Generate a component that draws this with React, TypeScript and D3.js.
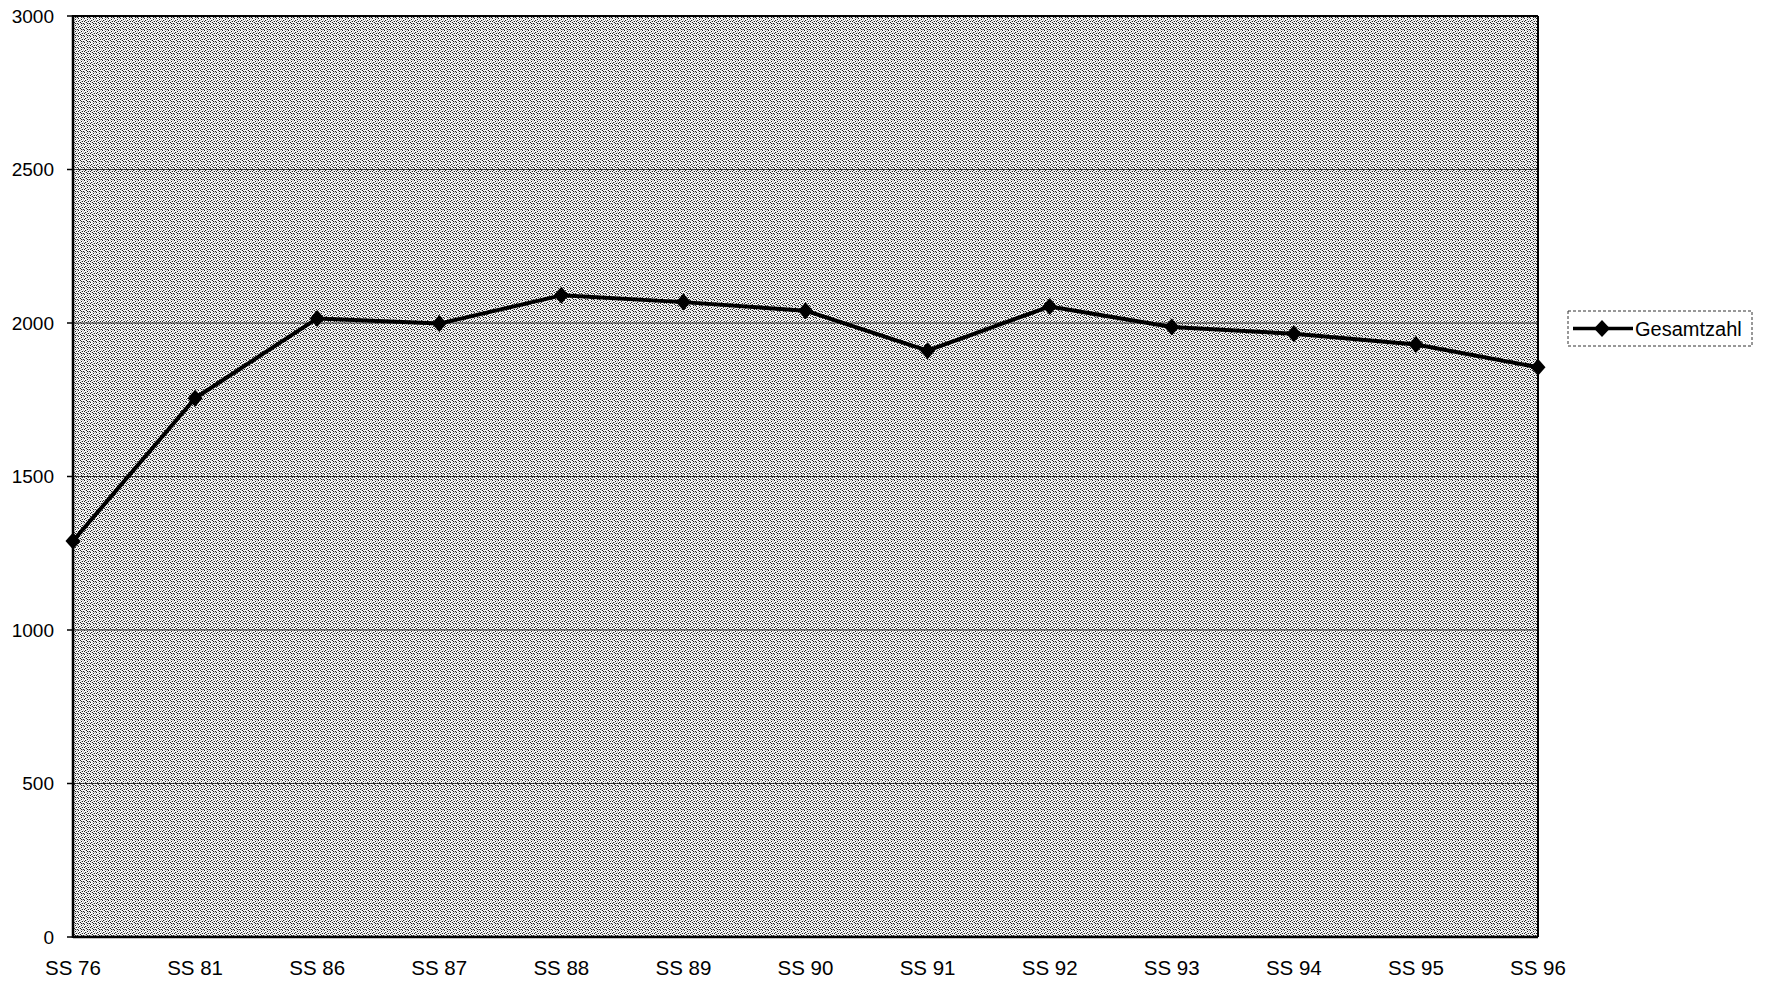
// Gesamtzahl per Sommersemester — line chart on a dithered grey plot area,
// in the style of an old spreadsheet printout.
import * as d3 from "d3";

const SEMESTERS = [
  "SS 76", "SS 81", "SS 86", "SS 87", "SS 88", "SS 89", "SS 90",
  "SS 91", "SS 92", "SS 93", "SS 94", "SS 95", "SS 96",
];
const GESAMTZAHL = [
  1290, 1755, 2015, 1998, 2090, 2068, 2040, 1910, 2054, 1987, 1965, 1930, 1856,
];
const Y_TICKS = [0, 500, 1000, 1500, 2000, 2500, 3000];
const SERIES_NAME = "Gesamtzahl";

const W = 1765;
const H = 985;
const M = { left: 73, right: 1538, top: 16, bottom: 937 };
const FONT = "'Liberation Sans', Arial, Helvetica, sans-serif";

// 6x6 dither tile: black dots sprinkled over white, plus some grey ones
const DITHER_BLACK = [
  [0, 0], [3, 1], [1, 2], [4, 3], [2, 4], [5, 5], [0, 3], [3, 5],
];
const DITHER_GREY = [
  [2, 0], [5, 1], [0, 5], [3, 3], [1, 4], [4, 0], [5, 2], [2, 2], [4, 5],
];

const diamond = (cx: number, cy: number, rx: number, ry: number) =>
  `M${cx},${cy - ry}L${cx + rx},${cy}L${cx},${cy + ry}L${cx - rx},${cy}Z`;

export default function App() {
  const x = d3.scalePoint<string>().domain(SEMESTERS).range([M.left, M.right]).padding(0);
  const y = d3.scaleLinear().domain([0, 3000]).range([M.bottom, M.top]);

  const pts = SEMESTERS.map((s, i) => [x(s)!, y(GESAMTZAHL[i])] as [number, number]);
  const line = d3.line<[number, number]>()(pts)!;

  const leg = { x: 1568, y: 311, w: 184, h: 35 };
  const legMidY = leg.y + leg.h / 2;

  return (
    <svg
      width={W}
      height={H}
      viewBox={`0 0 ${W} ${H}`}
      style={{ position: "absolute", left: 0, top: 0, background: "#fff" }}
      fontFamily={FONT}
    >
      <defs>
        <pattern id="dither" width={6} height={6} patternUnits="userSpaceOnUse">
          <rect width={6} height={6} fill="#fbfbfb" shapeRendering="crispEdges" />
          {DITHER_GREY.map(([px, py], i) => (
            <rect key={`g${i}`} x={px} y={py} width={1} height={1} fill="#c2c2c2" shapeRendering="crispEdges" />
          ))}
          {DITHER_BLACK.map(([px, py], i) => (
            <rect key={`b${i}`} x={px} y={py} width={1} height={1} fill="#222" shapeRendering="crispEdges" />
          ))}
        </pattern>
      </defs>

      {/* plot area */}
      <rect
        x={M.left}
        y={M.top}
        width={M.right - M.left}
        height={M.bottom - M.top}
        fill="url(#dither)"
      />

      {/* gridlines */}
      {Y_TICKS.filter((t) => t > 0 && t < 3000).map((t) => (
        <line key={t} x1={M.left} x2={M.right} y1={y(t)} y2={y(t)} stroke="#333" strokeWidth={1.2} />
      ))}

      {/* frame */}
      <line x1={M.left} x2={M.right} y1={M.top} y2={M.top} stroke="#000" strokeWidth={2} />
      <line x1={M.right} x2={M.right} y1={M.top} y2={M.bottom} stroke="#000" strokeWidth={2} />
      <line x1={M.left} x2={M.left} y1={M.top - 1} y2={M.bottom + 1} stroke="#000" strokeWidth={2.5} />
      <line x1={M.left} x2={M.right} y1={M.bottom} y2={M.bottom} stroke="#000" strokeWidth={2.5} />

      {/* y axis */}
      {Y_TICKS.map((t) => (
        <g key={t}>
          <line x1={M.left - 6} x2={M.left} y1={y(t)} y2={y(t)} stroke="#000" strokeWidth={1.5} />
          <text x={M.left - 19} y={y(t)} dy="0.35em" textAnchor="end" fontSize={19} fill="#000">
            {t}
          </text>
        </g>
      ))}

      {/* x axis labels */}
      {SEMESTERS.map((s) => (
        <text key={s} x={x(s)} y={975} textAnchor="middle" fontSize={20.5} fill="#000">
          {s}
        </text>
      ))}

      {/* series */}
      <path d={line} fill="none" stroke="#000" strokeWidth={4} strokeLinejoin="round" />
      {pts.map(([px, py], i) => (
        <path key={i} d={diamond(px, py, 7.5, 8.5)} fill="#000" />
      ))}

      {/* legend */}
      <rect
        x={leg.x}
        y={leg.y}
        width={leg.w}
        height={leg.h}
        fill="#fff"
        stroke="#333"
        strokeWidth={1}
        strokeDasharray="3 2"
      />
      <line x1={leg.x + 5} x2={leg.x + 65} y1={legMidY} y2={legMidY} stroke="#000" strokeWidth={3.5} />
      <path d={diamond(leg.x + 34, legMidY, 8, 8.5)} fill="#000" />
      <text x={leg.x + 67} y={legMidY} dy="0.36em" fontSize={20} fill="#000">
        {SERIES_NAME}
      </text>
    </svg>
  );
}
